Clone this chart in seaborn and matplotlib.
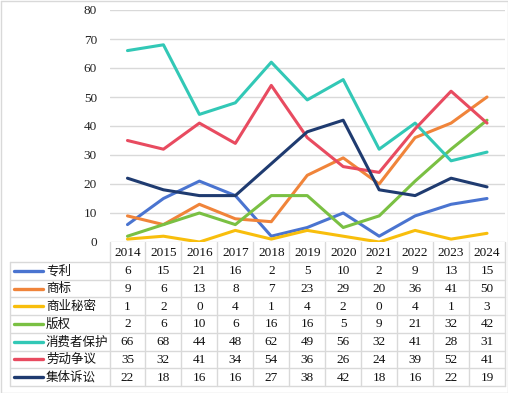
import matplotlib
matplotlib.use("Agg")
import matplotlib.pyplot as plt
import matplotlib.transforms as mtransforms
import seaborn as sns
import pandas as pd

years = ["2014", "2015", "2016", "2017", "2018", "2019", "2020", "2021", "2022", "2023", "2024"]
series_names = ["专利", "商标", "商业秘密", "版权", "消费者保护", "劳动争议", "集体诉讼"]
patent = [6, 15, 21, 16, 2, 5, 10, 2, 9, 13, 15]
trademark = [9, 6, 13, 8, 7, 23, 29, 20, 36, 41, 50]
trade_secret = [1, 2, 0, 4, 1, 4, 2, 0, 4, 1, 3]
copyright_ = [2, 6, 10, 6, 16, 16, 5, 9, 21, 32, 42]
consumer = [66, 68, 44, 48, 62, 49, 56, 32, 41, 28, 31]
labor = [35, 32, 41, 34, 54, 36, 26, 24, 39, 52, 41]
class_action = [22, 18, 16, 16, 27, 38, 42, 18, 16, 22, 19]
yticks = [0, 10, 20, 30, 40, 50, 60, 70, 80]

colors = ["#4A74D0", "#F0843A", "#F8BE0C", "#7AC043", "#32C8B6", "#E84B60", "#1F3B70"]
all_values = [patent, trademark, trade_secret, copyright_, consumer, labor, class_action]

rows = []
for name, vals in zip(series_names, all_values):
    for i, v in enumerate(vals):
        rows.append({"idx": i, "year": years[i], "value": v, "series": name})
df = pd.DataFrame(rows)

sns.set_theme(style="white")
plt.rcParams["font.family"] = ["Liberation Serif", "Noto Sans CJK SC", "DejaVu Sans"]

W, H = 508, 393
fig = plt.figure(figsize=(W / 100, H / 100), dpi=100)
L, R, T, B = 109.5, 505, 10, 242
ax = fig.add_axes([L / W, 1 - B / H, (R - L) / W, (B - T) / H])

sns.lineplot(data=df, x="idx", y="value", hue="series", palette=colors,
             hue_order=series_names, linewidth=2.2, ax=ax, legend=False, sort=False)
ax.set_xlim(-0.5, len(years) - 0.5)
ax.set_ylim(0, 80)
ax.set_yticks(yticks)
ax.set_yticklabels([str(t) for t in yticks], fontsize=9.5, color="#222222")
ax.set_xticks([])
ax.set_xlabel("")
ax.set_ylabel("")
ax.tick_params(axis="y", length=0, pad=9)
ax.grid(axis="y", color="#D9D9D9", linewidth=1)
ax.set_axisbelow(True)
for s in ax.spines.values():
    s.set_visible(False)

# overlay in pixel coordinates for table
ov = fig.add_axes([0, 0, 1, 1], zorder=-1)
ov.set_xlim(0, W)
ov.set_ylim(H, 0)
ov.axis("off")
ov.patch.set_alpha(0)

tr = mtransforms.blended_transform_factory(ax.transData, ov.transData)
gc = "#D9D9D9"
header_top = 242
row_top = 262
row_h = 17.7
table_left = 10
n = len(years)
bottom = row_top + row_h * len(series_names)

for i in range(n + 1):
    ov.plot([i - 0.5, i - 0.5], [header_top, bottom], color=gc, lw=1, transform=tr, clip_on=False)
ov.plot([table_left, R], [row_top, row_top], color=gc, lw=1)
for r in range(len(series_names)):
    y = row_top + row_h * (r + 1)
    ov.plot([table_left, R], [y, y], color=gc, lw=1)
ov.plot([table_left, table_left], [row_top, bottom], color=gc, lw=1)

for i, yr in enumerate(years):
    ov.text(i, (header_top + row_top) / 2 + 1, yr, transform=tr, ha="center", va="center",
            fontsize=9.5, color="#111111")

for r, (name, vals, c) in enumerate(zip(series_names, all_values, colors)):
    yc = row_top + row_h * (r + 0.5)
    ov.plot([14, 43], [yc, yc], color=c, lw=2.4, solid_capstyle="round")
    ov.text(46, yc + 0.5, name, ha="left", va="center", fontsize=9, color="#111111")
    for i, v in enumerate(vals):
        ov.text(i, yc + 0.5, str(v), transform=tr, ha="center", va="center",
                fontsize=9.5, color="#111111")

ov.plot([0.5, W - 0.5, W - 0.5, 0.5, 0.5], [0.5, 0.5, H - 0.5, H - 0.5, 0.5], color="#D9D9D9", lw=1)

fig.savefig("out.png", dpi=100)
